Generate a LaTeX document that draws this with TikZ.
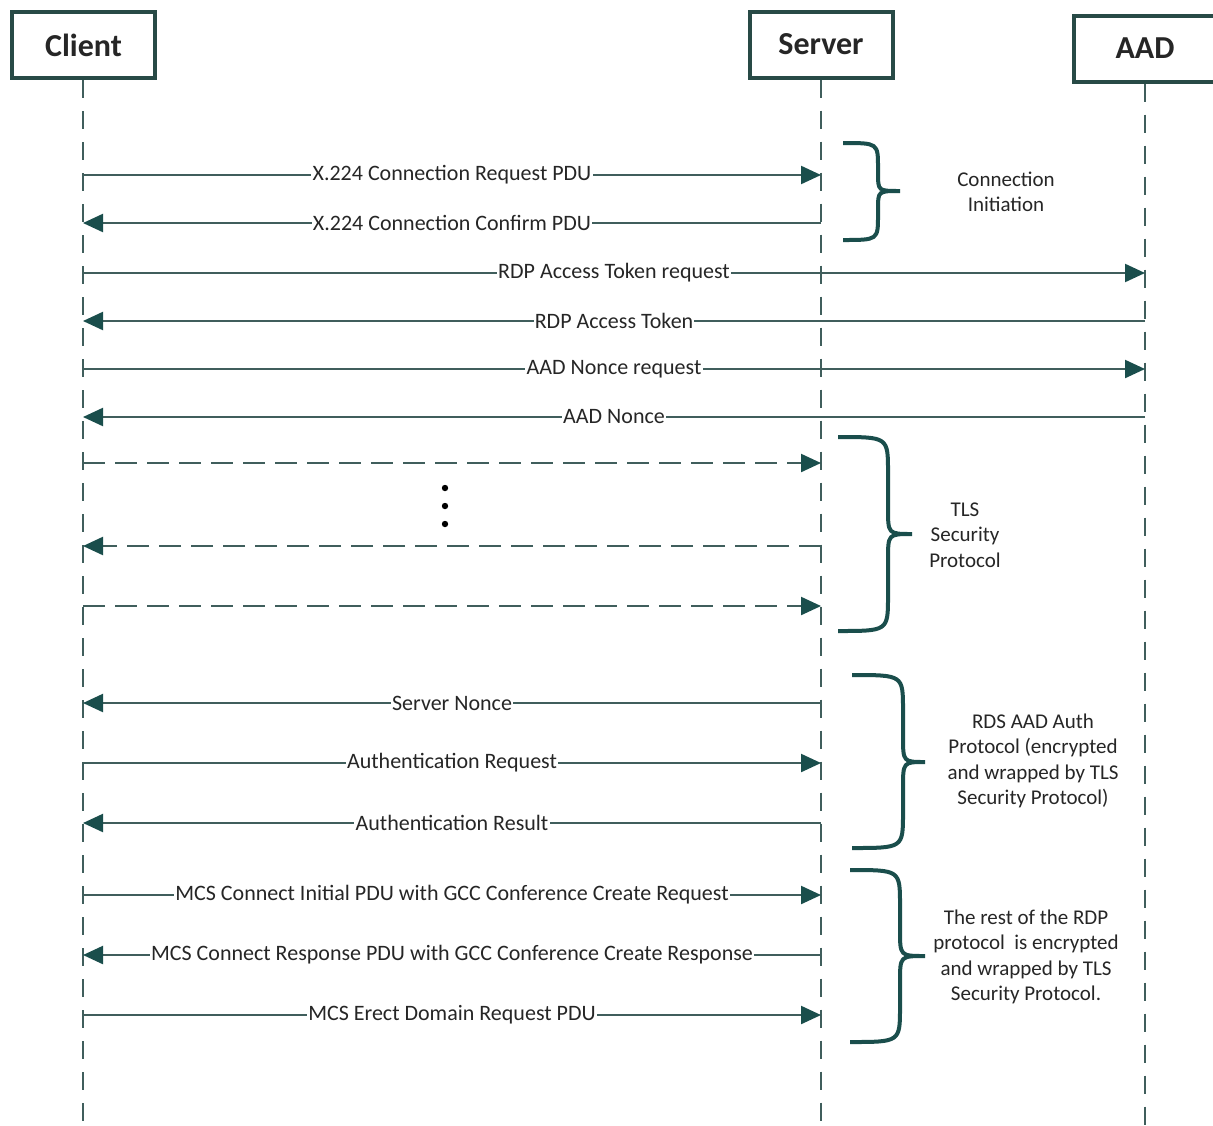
\documentclass[tikz,border=0pt]{standalone}
\usepackage{fontspec}
\setmainfont{Carlito}
\usetikzlibrary{arrows.meta}
\definecolor{teal1}{RGB}{26,78,76}
\definecolor{lineg}{RGB}{64,94,92}
\definecolor{boxc}{RGB}{40,74,70}
\definecolor{txt}{RGB}{38,38,38}
\begin{document}
\begin{tikzpicture}[x=0.5pt,y=-0.5pt,
 actor/.style={draw=boxc, line width=2pt, fill=white, minimum width=71.5pt, minimum height=33pt, inner sep=0pt, font=\fontsize{16}{19}\selectfont\bfseries, text=txt},
 life/.style={draw=lineg, line width=1pt, dash pattern=on 9pt off 6.5pt},
 msg/.style={draw=lineg, line width=1.1pt, -{Triangle[length=10pt,width=9pt,color=teal1]}},
 dmsg/.style={msg, dash pattern=on 11pt off 5pt},
 lbl/.style={fill=white, inner sep=0.6pt, text=txt, font=\fontsize{11}{13}\selectfont},
 brc/.style={draw=teal1, line width=2pt},
 note/.style={align=center, text=txt, font=\fontsize{10.5}{12.7}\selectfont}]
\useasboundingbox[fill=white] (0,0) rectangle (1213,1125);

% actors
\node[actor] (client) at (83.5,45) {Client};
\node[actor] (server) at (821,44.5) {Server};
\node[actor] (aad) at (1145,48.5) {AAD};

% lifeline ends
\coordinate (cend) at (83,1125);
\coordinate (send) at (821,1125);
\coordinate (aend) at (1145,1125);
\draw[life] (client.south -| cend) -- (cend);
\draw[life] (server.south -| send) -- (send);
\draw[life] (aad.south -| aend) -- (aend);

% message rows
\foreach \n/\y in {1/175,2/223,3/273,4/321,5/369,6/417,7/463,8/546,9/606,10/703,11/763,12/823,13/895,14/955,15/1015}{
  \coordinate (c\n) at (83,\y);
  \coordinate (s\n) at (821,\y);
  \coordinate (a\n) at (1145,\y);
}

\draw[msg] (c1) -- node[lbl,midway]{X.224 Connection Request PDU} (s1);
\draw[msg] (s2) -- node[lbl,midway]{X.224 Connection Confirm PDU} (c2);
\draw[msg] (c3) -- node[lbl,midway]{RDP Access Token request} (a3);
\draw[msg] (a4) -- node[lbl,midway]{RDP Access Token} (c4);
\draw[msg] (c5) -- node[lbl,midway]{AAD Nonce request} (a5);
\draw[msg] (a6) -- node[lbl,midway]{AAD Nonce} (c6);
\draw[dmsg] (c7) -- (s7);
\draw[dmsg] (s8) -- (c8);
\draw[dmsg] (c9) -- (s9);
\draw[msg] (s10) -- node[lbl,midway]{Server Nonce} (c10);
\draw[msg] (c11) -- node[lbl,midway]{Authentication Request} (s11);
\draw[msg] (s12) -- node[lbl,midway]{Authentication Result} (c12);
\draw[msg] (c13) -- node[lbl,midway]{MCS Connect Initial PDU with GCC Conference Create Request} (s13);
\draw[msg] (s14) -- node[lbl,midway]{MCS Connect Response PDU with GCC Conference Create Response} (c14);
\draw[msg] (c15) -- node[lbl,midway]{MCS Erect Domain Request PDU} (s15);

% ellipsis dots
\fill[black] (445,488) circle (1.6pt);
\fill[black] (445,506) circle (1.6pt);
\fill[black] (445,524) circle (1.6pt);

% braces
\draw[brc] (843,143) .. controls (878,143) .. (878,168) -- (878,173) .. controls (878,191) .. (900,191) .. controls (878,191) .. (878,209) -- (878,215) .. controls (878,240) .. (843,240);
\draw[brc] (838,437) .. controls (888,437) .. (888,472) -- (888,508) .. controls (888,534) .. (912,534) .. controls (888,534) .. (888,560) -- (888,596) .. controls (888,631) .. (838,631);
\draw[brc] (852,675) .. controls (903,675) .. (903,710) -- (903,736) .. controls (903,762) .. (925,762) .. controls (903,762) .. (903,788) -- (903,813) .. controls (903,848) .. (852,848);
\draw[brc] (850,870) .. controls (900,870) .. (900,905) -- (900,930) .. controls (900,956) .. (925,956) .. controls (900,956) .. (900,982) -- (900,1007) .. controls (900,1042) .. (850,1042);

% notes
\node[note] (n1) at (1006,192) {Connection\\Initiation};
\node[note] (n2) at (965,535) {TLS\\Security\\Protocol};
\node[note] (n3) at (1033,761) {RDS AAD Auth\\Protocol (encrypted\\and wrapped by TLS\\Security Protocol)};
\node[note] (n4) at (1026,957) {The rest of the RDP\\protocol\ \ is encrypted\\and wrapped by TLS\\Security Protocol.};
\end{tikzpicture}
\end{document}
